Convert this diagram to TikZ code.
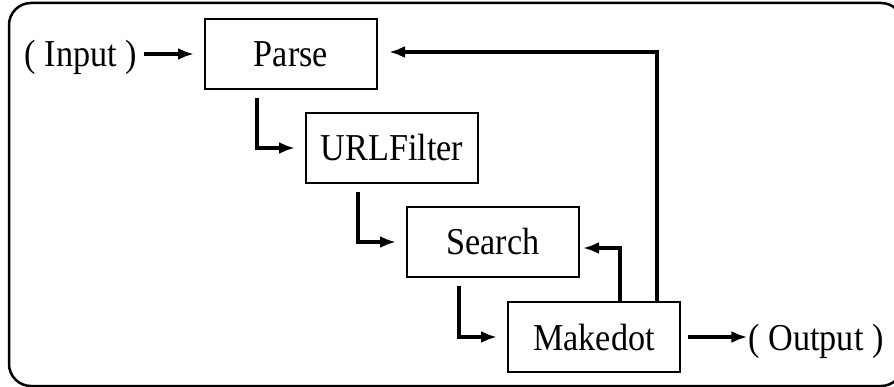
\documentclass[tikz,border=0pt]{standalone}
\usepackage{fontspec}
\setmainfont{Liberation Serif}[FakeStretch=0.9]
\usetikzlibrary{arrows.meta}
\begin{document}
\begin{tikzpicture}[x=1pt,y=-1pt,
  every node/.style={font=\fontsize{38}{40}\selectfont, text height=26pt, text depth=0pt},
  stage/.style={draw, line width=2pt, minimum width=172pt, minimum height=70pt, inner sep=0pt},
  term/.style={inner sep=0pt},
  flow/.style={line width=3.2pt, -{Latex[length=16pt,width=12pt]}}]
  \useasboundingbox (0,0) rectangle (894,387);
  \clip (0,0) rectangle (894,387);
  % outer frame
  \draw[line width=2.5pt, rounded corners=22pt] (9,3) rectangle (903,386);
  % pipeline stages
  \node[stage] (parse)   at (291,54)  {Parse};
  \node[stage] (urlf)    at (392,148) {URLFilter};
  \node[stage] (search)  at (493,242) {Search};
  \node[stage] (makedot) at (594,337) {Makedot};
  % terminals
  \node[term] (input)  at (81,54)   {( Input )};
  \node[term] (output) at (816,337) {( Output )};
  % forward flow
  \draw[flow] ([xshift=7pt]input.east) -- ([xshift=-10pt]parse.west);
  \draw[flow] ([shift={(53,8)}]parse.south west) |- ([xshift=-10pt]urlf.west);
  \draw[flow] ([shift={(53,8)}]urlf.south west) |- ([xshift=-10pt]search.west);
  \draw[flow] ([shift={(53,8)}]search.south west) |- ([xshift=-10pt]makedot.west);
  \draw[flow] ([xshift=7pt]makedot.east) -- ([xshift=-1pt]output.west);
  % feedback loops
  \draw[flow] ([xshift=113pt]makedot.north west) |- ([shift={(3,6)}]search.east);
  \draw[flow] ([xshift=150pt]makedot.north west) |- ([shift={(11,-2)}]parse.east);
\end{tikzpicture}
\end{document}
